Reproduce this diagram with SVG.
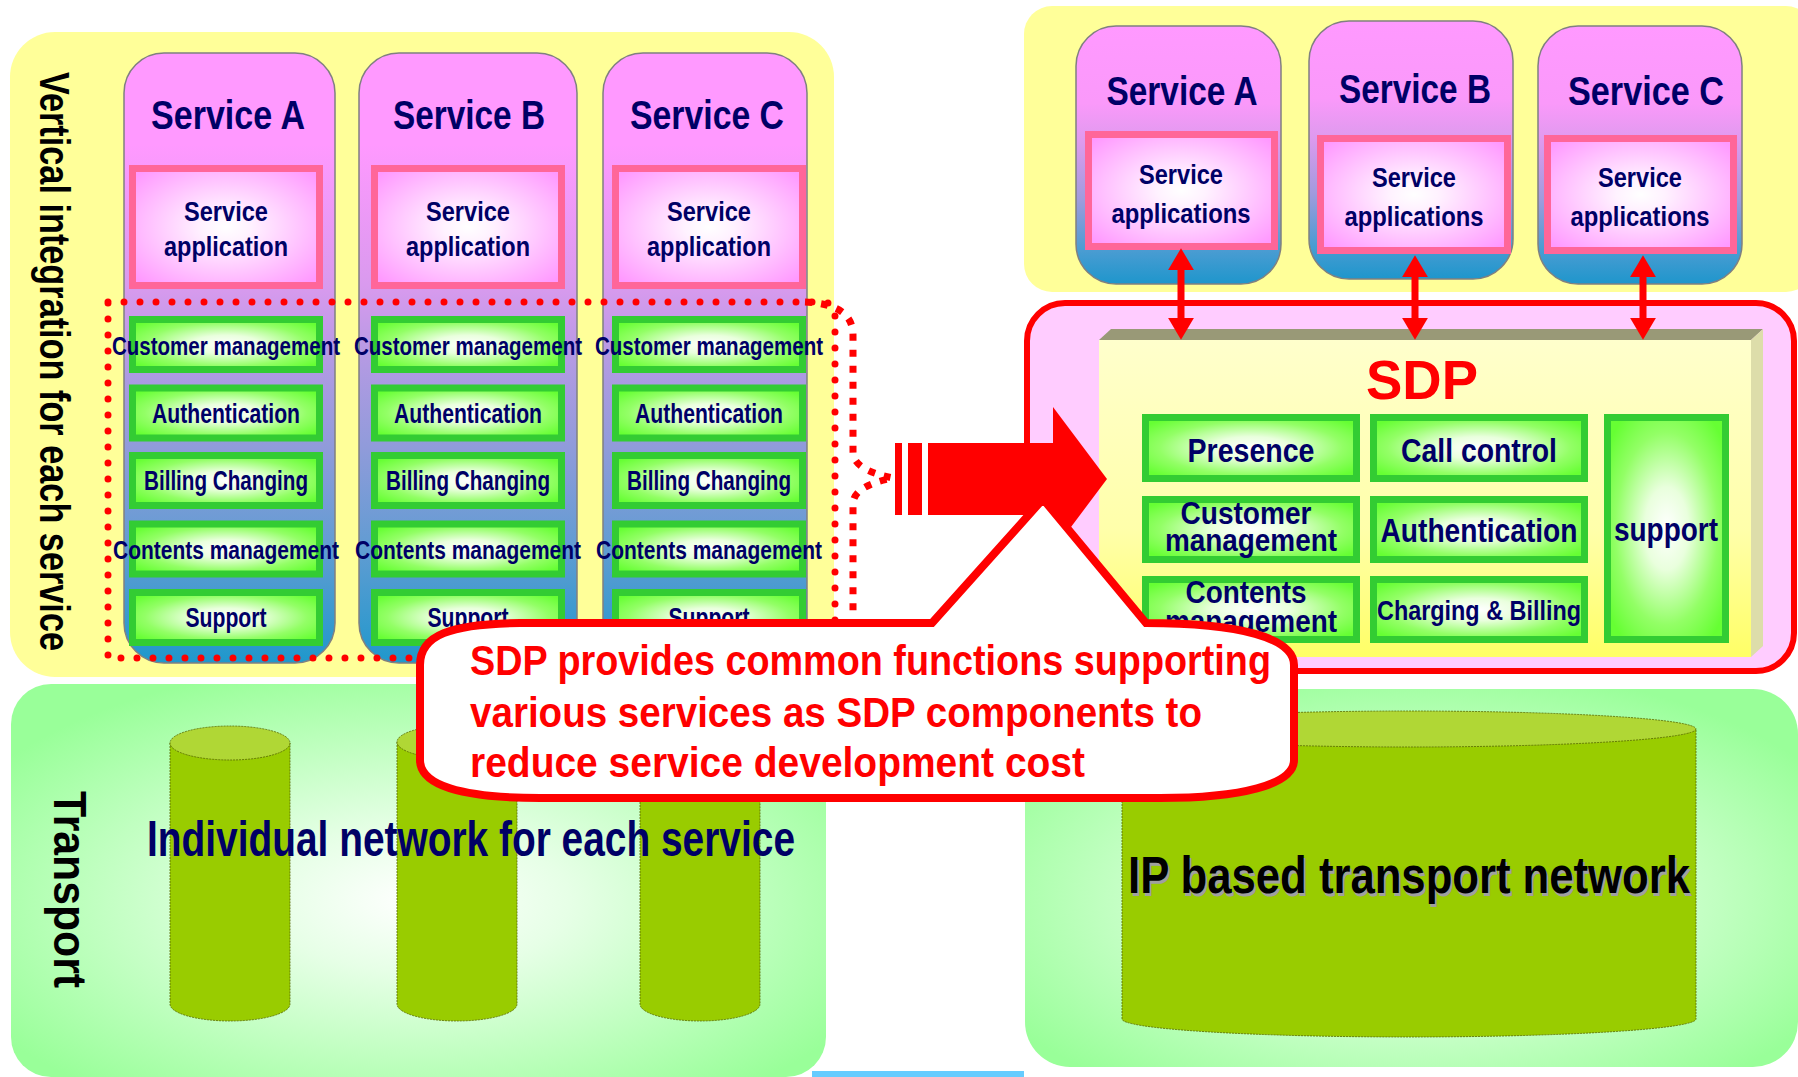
<svg xmlns="http://www.w3.org/2000/svg" width="1798" height="1077" viewBox="0 0 1798 1077">
<defs>
<linearGradient id="colL" x1="0" y1="0" x2="0" y2="1">
<stop offset="0" stop-color="#FF99FF"/><stop offset="0.15" stop-color="#FF99FF"/><stop offset="0.38" stop-color="#D99AEE"/><stop offset="0.5" stop-color="#B49AE3"/><stop offset="0.65" stop-color="#8F9BDA"/><stop offset="0.82" stop-color="#5E9CD2"/><stop offset="1" stop-color="#1F98CC"/>
</linearGradient>
<linearGradient id="colR" x1="0" y1="0" x2="0" y2="1">
<stop offset="0" stop-color="#FF99FF"/><stop offset="0.3" stop-color="#FA99FA"/><stop offset="0.45" stop-color="#DE9AEE"/><stop offset="0.67" stop-color="#A09BDD"/><stop offset="0.87" stop-color="#4A9CD2"/><stop offset="1" stop-color="#1E96CC"/>
</linearGradient>
<radialGradient id="appG" cx="0.5" cy="0.5" r="0.65">
<stop offset="0" stop-color="#FFFFFF"/><stop offset="0.2" stop-color="#FFF2FF"/><stop offset="1" stop-color="#FF99FF"/>
</radialGradient>
<radialGradient id="grnG" cx="0.5" cy="0.5" r="0.62">
<stop offset="0" stop-color="#FFFFFF"/><stop offset="0.3" stop-color="#E9FFDD"/><stop offset="0.7" stop-color="#93FF66"/><stop offset="1" stop-color="#66FF33"/>
</radialGradient>
<radialGradient id="trG" cx="0.5" cy="0.55" r="0.62">
<stop offset="0" stop-color="#FFFFFF"/><stop offset="0.3" stop-color="#E6FFE6"/><stop offset="1" stop-color="#99FF99"/>
</radialGradient>
<linearGradient id="sdpF" x1="0" y1="0" x2="0" y2="1">
<stop offset="0" stop-color="#FFFFCC"/><stop offset="0.6" stop-color="#FFFFAA"/><stop offset="1" stop-color="#FFFF66"/>
</linearGradient>
<marker id="ah" viewBox="0 0 10 10" refX="1" refY="5" markerWidth="22" markerHeight="26" markerUnits="userSpaceOnUse" orient="auto-start-reverse" preserveAspectRatio="none">
<path d="M0,0 L10,5 L0,10 z" fill="#FF0000"/>
</marker>
<style>
.nv{font-family:"Liberation Sans",Arial,sans-serif;font-weight:bold;fill:#000066;text-anchor:middle}
.col{stroke:#808080;stroke-width:1.5}
.colL{fill:url(#colL)}
.colR{fill:url(#colR)}
.app{fill:url(#appG);stroke:#FF6699;stroke-width:7}
.gb{fill:url(#grnG);stroke:#33CC33;stroke-width:7}
.cyl{fill:#99CC00;stroke:#556600;stroke-width:0.8;stroke-dasharray:2 1}
.cylt{fill:#B0D735;stroke:#556600;stroke-width:0.8;stroke-dasharray:2 1}
.t40{font-size:40px}
.t28{font-size:28px}
.t26{font-size:26px}
.t34{font-size:34px}
</style>
</defs>

<rect x="812" y="1071" width="212" height="6" fill="#66CCFF"/>

<g id="left-panel">
<rect x="10" y="32" width="824" height="645" rx="45" fill="#FFFF99"/>
<text transform="translate(40,72) rotate(90)" font-family="Liberation Sans,Arial,sans-serif" font-weight="bold" font-size="42" fill="#000000" textLength="579" lengthAdjust="spacingAndGlyphs">Vertical integration for each service</text>
</g>

<g id="left-service-a">
<rect class="col colL" x="124" y="53" width="211" height="610" rx="40"/>
<text class="nv t40" x="228" y="129" textLength="154" lengthAdjust="spacingAndGlyphs">Service A</text>
<rect class="app" x="132.5" y="168.5" width="187" height="117"/>
<text class="nv t28" x="226" y="221" textLength="84" lengthAdjust="spacingAndGlyphs">Service</text>
<text class="nv t28" x="226" y="256" textLength="124" lengthAdjust="spacingAndGlyphs">application</text>
<rect class="gb" x="132.5" y="319.5" width="187" height="50"/>
<rect class="gb" x="132.5" y="388" width="187" height="50"/>
<rect class="gb" x="132.5" y="455.5" width="187" height="50"/>
<rect class="gb" x="132.5" y="524" width="187" height="50"/>
<rect class="gb" x="132.5" y="592.5" width="187" height="50"/>
<text class="nv t26" x="226" y="355" textLength="228" lengthAdjust="spacingAndGlyphs">Customer management</text>
<text class="nv t28" x="226" y="423" textLength="148" lengthAdjust="spacingAndGlyphs">Authentication</text>
<text class="nv t28" x="226" y="490" textLength="164" lengthAdjust="spacingAndGlyphs">Billing Changing</text>
<text class="nv t26" x="226" y="559" textLength="226" lengthAdjust="spacingAndGlyphs">Contents management</text>
<text class="nv t28" x="226" y="627" textLength="81" lengthAdjust="spacingAndGlyphs">Support</text>
</g>

<g id="left-service-b">
<rect class="col colL" x="359" y="53" width="218" height="610" rx="40"/>
<text class="nv t40" x="469" y="129" textLength="152" lengthAdjust="spacingAndGlyphs">Service B</text>
<rect class="app" x="374.5" y="168.5" width="187" height="117"/>
<text class="nv t28" x="468" y="221" textLength="84" lengthAdjust="spacingAndGlyphs">Service</text>
<text class="nv t28" x="468" y="256" textLength="124" lengthAdjust="spacingAndGlyphs">application</text>
<rect class="gb" x="374.5" y="319.5" width="187" height="50"/>
<rect class="gb" x="374.5" y="388" width="187" height="50"/>
<rect class="gb" x="374.5" y="455.5" width="187" height="50"/>
<rect class="gb" x="374.5" y="524" width="187" height="50"/>
<rect class="gb" x="374.5" y="592.5" width="187" height="50"/>
<text class="nv t26" x="468" y="355" textLength="228" lengthAdjust="spacingAndGlyphs">Customer management</text>
<text class="nv t28" x="468" y="423" textLength="148" lengthAdjust="spacingAndGlyphs">Authentication</text>
<text class="nv t28" x="468" y="490" textLength="164" lengthAdjust="spacingAndGlyphs">Billing Changing</text>
<text class="nv t26" x="468" y="559" textLength="226" lengthAdjust="spacingAndGlyphs">Contents management</text>
<text class="nv t28" x="468" y="627" textLength="81" lengthAdjust="spacingAndGlyphs">Support</text>
</g>

<g id="left-service-c">
<rect class="col colL" x="603" y="53" width="204" height="610" rx="40"/>
<text class="nv t40" x="707" y="129" textLength="154" lengthAdjust="spacingAndGlyphs">Service C</text>
<rect class="app" x="615.5" y="168.5" width="187" height="117"/>
<text class="nv t28" x="709" y="221" textLength="84" lengthAdjust="spacingAndGlyphs">Service</text>
<text class="nv t28" x="709" y="256" textLength="124" lengthAdjust="spacingAndGlyphs">application</text>
<rect class="gb" x="615.5" y="319.5" width="187" height="50"/>
<rect class="gb" x="615.5" y="388" width="187" height="50"/>
<rect class="gb" x="615.5" y="455.5" width="187" height="50"/>
<rect class="gb" x="615.5" y="524" width="187" height="50"/>
<rect class="gb" x="615.5" y="592.5" width="187" height="50"/>
<text class="nv t26" x="709" y="355" textLength="228" lengthAdjust="spacingAndGlyphs">Customer management</text>
<text class="nv t28" x="709" y="423" textLength="148" lengthAdjust="spacingAndGlyphs">Authentication</text>
<text class="nv t28" x="709" y="490" textLength="164" lengthAdjust="spacingAndGlyphs">Billing Changing</text>
<text class="nv t26" x="709" y="559" textLength="226" lengthAdjust="spacingAndGlyphs">Contents management</text>
<text class="nv t28" x="709" y="627" textLength="81" lengthAdjust="spacingAndGlyphs">Support</text>
</g>

<g id="common-functions-outline" fill="none" stroke="#FF0000" stroke-width="7">
<path d="M108,302 H822 Q835,302 835,315 V658 H108 Z" stroke-dasharray="0 16" stroke-linecap="round"/>
<path d="M805,302 Q853,304 853,335 V452 Q853,470 893,478 Q853,486 853,504 V640" stroke-dasharray="7 9"/>
</g>

<g id="left-transport">
<rect x="11" y="684" width="815" height="393" rx="40" fill="url(#trG)"/>
<path class="cyl" d="M170,743 V1004 A60,17 0 0 0 290,1004 V743 Z"/>
<ellipse class="cylt" cx="230" cy="743" rx="60" ry="17"/>
<path class="cyl" d="M397,742 V1004 A60,17 0 0 0 517,1004 V742 Z"/>
<ellipse class="cylt" cx="457" cy="742" rx="60" ry="17"/>
<path class="cyl" d="M640,742 V1004 A60,17 0 0 0 760,1004 V742 Z"/>
<ellipse class="cylt" cx="700" cy="742" rx="60" ry="17"/>
<text transform="translate(54,791) rotate(90)" font-family="Liberation Sans,Arial,sans-serif" font-weight="bold" font-size="47" fill="#000000" textLength="197" lengthAdjust="spacingAndGlyphs">Transport</text>
<text class="nv" x="471" y="856" font-size="50" textLength="648" lengthAdjust="spacingAndGlyphs">Individual network for each service</text>
</g>

<g id="right-services-panel">
<rect x="1024" y="6" width="790" height="286" rx="28" fill="#FFFF99"/>
</g>

<g id="right-service-a">
<rect class="col colR" x="1076" y="26" width="205" height="258" rx="40"/>
<text class="nv t40" x="1182" y="105" textLength="151" lengthAdjust="spacingAndGlyphs">Service A</text>
<rect class="app" x="1088.5" y="134.5" width="186" height="112"/>
<text class="nv t28" x="1181" y="184" textLength="84" lengthAdjust="spacingAndGlyphs">Service</text>
<text class="nv t28" x="1181" y="223" textLength="139" lengthAdjust="spacingAndGlyphs">applications</text>
</g>

<g id="right-service-b">
<rect class="col colR" x="1309" y="21" width="204" height="258" rx="40"/>
<text class="nv t40" x="1415" y="103" textLength="152" lengthAdjust="spacingAndGlyphs">Service B</text>
<rect class="app" x="1320.5" y="138.5" width="187" height="112"/>
<text class="nv t28" x="1414" y="187" textLength="84" lengthAdjust="spacingAndGlyphs">Service</text>
<text class="nv t28" x="1414" y="226" textLength="139" lengthAdjust="spacingAndGlyphs">applications</text>
</g>

<g id="right-service-c">
<rect class="col colR" x="1538" y="26" width="204" height="258" rx="40"/>
<text class="nv t40" x="1646" y="105" textLength="156" lengthAdjust="spacingAndGlyphs">Service C</text>
<rect class="app" x="1547.5" y="138.5" width="186" height="112"/>
<text class="nv t28" x="1640" y="187" textLength="84" lengthAdjust="spacingAndGlyphs">Service</text>
<text class="nv t28" x="1640" y="226" textLength="139" lengthAdjust="spacingAndGlyphs">applications</text>
</g>

<g id="sdp">
<rect x="1027" y="303" width="767" height="368" rx="38" fill="#FFCCFF" stroke="#FF0000" stroke-width="6"/>
<polygon points="1099,340 1111,329 1763,329 1751,340" fill="#999977"/>
<polygon points="1751,340 1763,329 1763,646 1751,657" fill="#DDDDAA"/>
<rect x="1099" y="340" width="652" height="317" fill="url(#sdpF)"/>
<text x="1422" y="399" font-family="Liberation Sans,Arial,sans-serif" font-weight="bold" font-size="56" fill="#FF0000" text-anchor="middle" textLength="112" lengthAdjust="spacingAndGlyphs">SDP</text>
<rect class="gb" x="1145.5" y="417.5" width="211" height="61"/>
<rect class="gb" x="1373.5" y="417.5" width="211" height="61"/>
<rect class="gb" x="1145.5" y="499.5" width="211" height="60"/>
<rect class="gb" x="1373.5" y="499.5" width="211" height="60"/>
<rect class="gb" x="1145.5" y="579.5" width="211" height="60"/>
<rect class="gb" x="1373.5" y="579.5" width="211" height="60"/>
<rect class="gb" x="1607.5" y="417.5" width="118" height="222"/>
<text class="nv t34" x="1251" y="462" textLength="127" lengthAdjust="spacingAndGlyphs">Presence</text>
<text class="nv t34" x="1479" y="462" textLength="156" lengthAdjust="spacingAndGlyphs">Call control</text>
<text class="nv" font-size="31" x="1246" y="524" textLength="131" lengthAdjust="spacingAndGlyphs">Customer</text>
<text class="nv" font-size="31" x="1251" y="551" textLength="172" lengthAdjust="spacingAndGlyphs">management</text>
<text class="nv t34" x="1479" y="542" textLength="197" lengthAdjust="spacingAndGlyphs">Authentication</text>
<text class="nv" font-size="31" x="1246" y="603" textLength="121" lengthAdjust="spacingAndGlyphs">Contents</text>
<text class="nv" font-size="31" x="1251" y="632" textLength="172" lengthAdjust="spacingAndGlyphs">management</text>
<text class="nv t28" x="1479" y="620" textLength="204" lengthAdjust="spacingAndGlyphs">Charging &amp; Billing</text>
<text class="nv t34" x="1666" y="541" textLength="104" lengthAdjust="spacingAndGlyphs">support</text>
</g>

<g id="right-transport">
<rect x="1025" y="689" width="773" height="378" rx="45" fill="url(#trG)"/>
<path class="cyl" d="M1122,729 V1019 A287,18 0 0 0 1696,1019 V729 Z"/>
<ellipse class="cylt" cx="1409" cy="729" rx="287" ry="18"/>
<text x="1411" y="896" font-family="Liberation Sans,Arial,sans-serif" font-weight="bold" font-size="52" fill="#A0A0A0" text-anchor="middle" textLength="562" lengthAdjust="spacingAndGlyphs">IP based transport network</text>
<text x="1409" y="893" font-family="Liberation Sans,Arial,sans-serif" font-weight="bold" font-size="52" fill="#000000" text-anchor="middle" textLength="562" lengthAdjust="spacingAndGlyphs">IP based transport network</text>
</g>

<g id="connectors" stroke="#FF0000" stroke-width="7" fill="none">
<line x1="1181" y1="268" x2="1181" y2="320" marker-start="url(#ah)" marker-end="url(#ah)"/>
<line x1="1415" y1="275" x2="1415" y2="320" marker-start="url(#ah)" marker-end="url(#ah)"/>
<line x1="1643" y1="275" x2="1643" y2="320" marker-start="url(#ah)" marker-end="url(#ah)"/>
</g>

<g id="big-arrow" fill="#FF0000">
<rect x="895" y="443" width="7" height="72"/>
<rect x="908" y="443" width="14" height="72"/>
<polygon points="928,443 1053,443 1053,407 1107,479 1053,551 1053,515 928,515"/>
</g>

<g id="callout">
<path d="M932,623 L1043,499 L1146,623 C1240,623 1294,638 1294,665 L1294,760 C1294,785 1240,798 1160,798 L540,798 C460,798 420,785 420,760 L420,665 C420,635 450,624 520,623 Z" fill="#FFFFFF" stroke="#FF0000" stroke-width="8" stroke-linejoin="miter"/>
<g font-family="Liberation Sans,Arial,sans-serif" font-weight="bold" font-size="42" fill="#FF0000">
<text x="470" y="675" textLength="801" lengthAdjust="spacingAndGlyphs">SDP provides common functions supporting</text>
<text x="470" y="727" textLength="732" lengthAdjust="spacingAndGlyphs">various services as SDP components to</text>
<text x="470" y="777" textLength="615" lengthAdjust="spacingAndGlyphs">reduce service development cost</text>
</g>
</g>
</svg>
